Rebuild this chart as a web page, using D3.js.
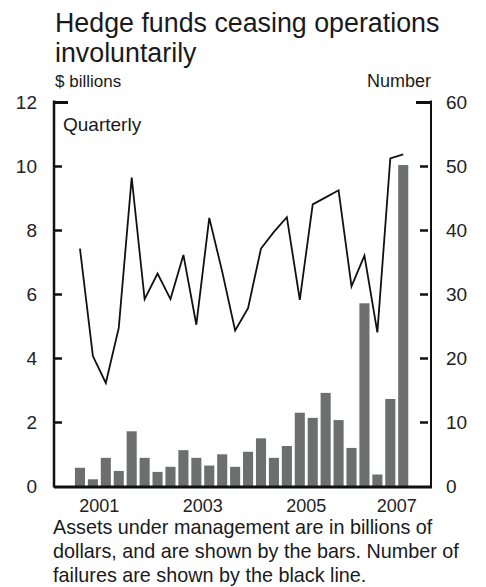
<!DOCTYPE html>
<html><head><meta charset="utf-8">
<script src="https://cdn.jsdelivr.net/npm/d3@7"></script>
<style>
html,body{margin:0;padding:0;background:#fff;}
svg{display:block;font-family:"Liberation Sans",Arial,Helvetica,sans-serif;}
</style></head>
<body>
<svg id="chart" width="486" height="587"></svg>
<script>
const quarters = ["2001Q1","2001Q2","2001Q3","2001Q4","2002Q1","2002Q2","2002Q3","2002Q4",
  "2003Q1","2003Q2","2003Q3","2003Q4","2004Q1","2004Q2","2004Q3","2004Q4",
  "2005Q1","2005Q2","2005Q3","2005Q4","2006Q1","2006Q2","2006Q3","2006Q4",
  "2007Q1","2007Q2"];
const assets = [0.57,0.21,0.88,0.47,1.71,0.88,0.44,0.60,1.12,0.88,0.64,0.99,0.60,1.07,1.49,0.88,
  1.25,2.29,2.13,2.91,2.06,1.19,5.71,0.36,2.72,10.03];
const failures = [37.1,20.3,16.1,24.7,48.2,29.2,33.2,29.2,36.1,25.2,41.9,33.5,24.3,27.8,37.1,39.7,
  42.0,29.1,44.0,45.1,46.2,31.2,36.0,24.0,51.2,51.8];
const leftTicks = [0,2,4,6,8,10,12];
const rightTicks = [0,10,20,30,40,50,60];
const yearLabels = ["2001","2003","2005","2007"];
const titleLines = ["Hedge funds ceasing operations","involuntarily"];
const noteLines = ["Assets under management are in billions of",
  "dollars, and are shown by the bars. Number of",
  "failures are shown by the black line."];

const svg = d3.select("#chart");
const L = 54, R = 431, T = 102, B = 486;

const x = d3.scaleBand().domain(quarters).range([73.5, 409.7]).paddingInner(0.22).paddingOuter(0.11);
const yL = d3.scaleLinear().domain([0,12]).range([B,T]);
const yR = d3.scaleLinear().domain([0,60]).range([B,T]);
const cx = q => x(q) + x.bandwidth()/2;

// bars
svg.append("g").selectAll("rect").data(quarters).join("rect")
  .attr("x", d => x(d))
  .attr("width", x.bandwidth())
  .attr("y", (d,i) => yL(assets[i]))
  .attr("height", (d,i) => yL(0) - yL(assets[i]))
  .attr("fill", "#6c6f6d");

// line
const line = d3.line().x((d,i) => cx(quarters[i])).y(d => yR(d));
svg.append("path").datum(failures)
  .attr("d", line).attr("fill","none").attr("stroke","#111").attr("stroke-width",1.8)
  .attr("stroke-linejoin","miter");

// left axis
const axL = svg.append("g").attr("transform", `translate(${L},0)`)
  .call(d3.axisLeft(yL).tickValues(leftTicks).tickSize(-8).tickPadding(0).tickFormat(d3.format("d")));
axL.select(".domain").remove();
axL.selectAll(".tick line").attr("stroke","#111").attr("stroke-width",2.5)
  .attr("x1", 1);
axL.selectAll(".tick").filter(d => d===12).select("line").attr("x2", 14).attr("stroke-width",3);
axL.selectAll(".tick").filter(d => d===0).select("line").remove();
axL.selectAll(".tick text").attr("x", -17).attr("font-size", 19).attr("fill","#222")
  .attr("font-family","Liberation Sans, Arial, sans-serif");

// right axis
const axR = svg.append("g").attr("transform", `translate(${R},0)`)
  .call(d3.axisRight(yR).tickValues(rightTicks).tickSize(-9).tickPadding(0).tickFormat(d3.format("d")));
axR.select(".domain").remove();
axR.selectAll(".tick line").attr("stroke","#111").attr("stroke-width",2.5).attr("x1",-3).attr("x2",-11);
axR.selectAll(".tick").filter(d => d===60).select("line").attr("x1",0).attr("x2",-15).attr("stroke-width",3);
axR.selectAll(".tick").filter(d => d===0).select("line").remove();
axR.selectAll(".tick text").attr("x", 15).attr("font-size", 19).attr("fill","#222")
  .attr("font-family","Liberation Sans, Arial, sans-serif");

// frame lines
svg.append("line").attr("x1",L).attr("x2",L).attr("y1",T-1.5).attr("y2",B+1.5)
  .attr("stroke","#111").attr("stroke-width",2.5);
svg.append("line").attr("x1",R).attr("x2",R).attr("y1",T-1.5).attr("y2",B+1.5)
  .attr("stroke","#111").attr("stroke-width",2);
svg.append("line").attr("x1",L).attr("x2",R+1).attr("y1",B+1).attr("y2",B+1)
  .attr("stroke","#111").attr("stroke-width",3);

// year labels
svg.append("g").selectAll("text").data(yearLabels).join("text")
  .attr("x", yr => d3.mean(quarters.filter(q => q.startsWith(yr)), cx))
  .attr("y", 512).attr("text-anchor","middle").attr("font-size",18).attr("fill","#222")
  .text(d => d);

// titles
svg.append("g").selectAll("text").data(titleLines).join("text")
  .attr("x", 55).attr("y", (d,i) => 32 + i*29.5).attr("font-size", 26.8).attr("fill","#1a1a1a")
  .text(d => d);
svg.append("text").attr("x",55).attr("y",87).attr("font-size",17).attr("fill","#1a1a1a").text("$ billions");
svg.append("text").attr("x",431).attr("y",87).attr("text-anchor","end").attr("font-size",18).attr("fill","#1a1a1a").text("Number");
svg.append("text").attr("x",63).attr("y",131).attr("font-size",19).attr("fill","#1a1a1a").text("Quarterly");

// footnote
svg.append("g").selectAll("text").data(noteLines).join("text")
  .attr("x", 53).attr("y", (d,i) => 534 + i*24).attr("font-size", 19.8).attr("fill","#1a1a1a")
  .text(d => d);
</script>
</body></html>
